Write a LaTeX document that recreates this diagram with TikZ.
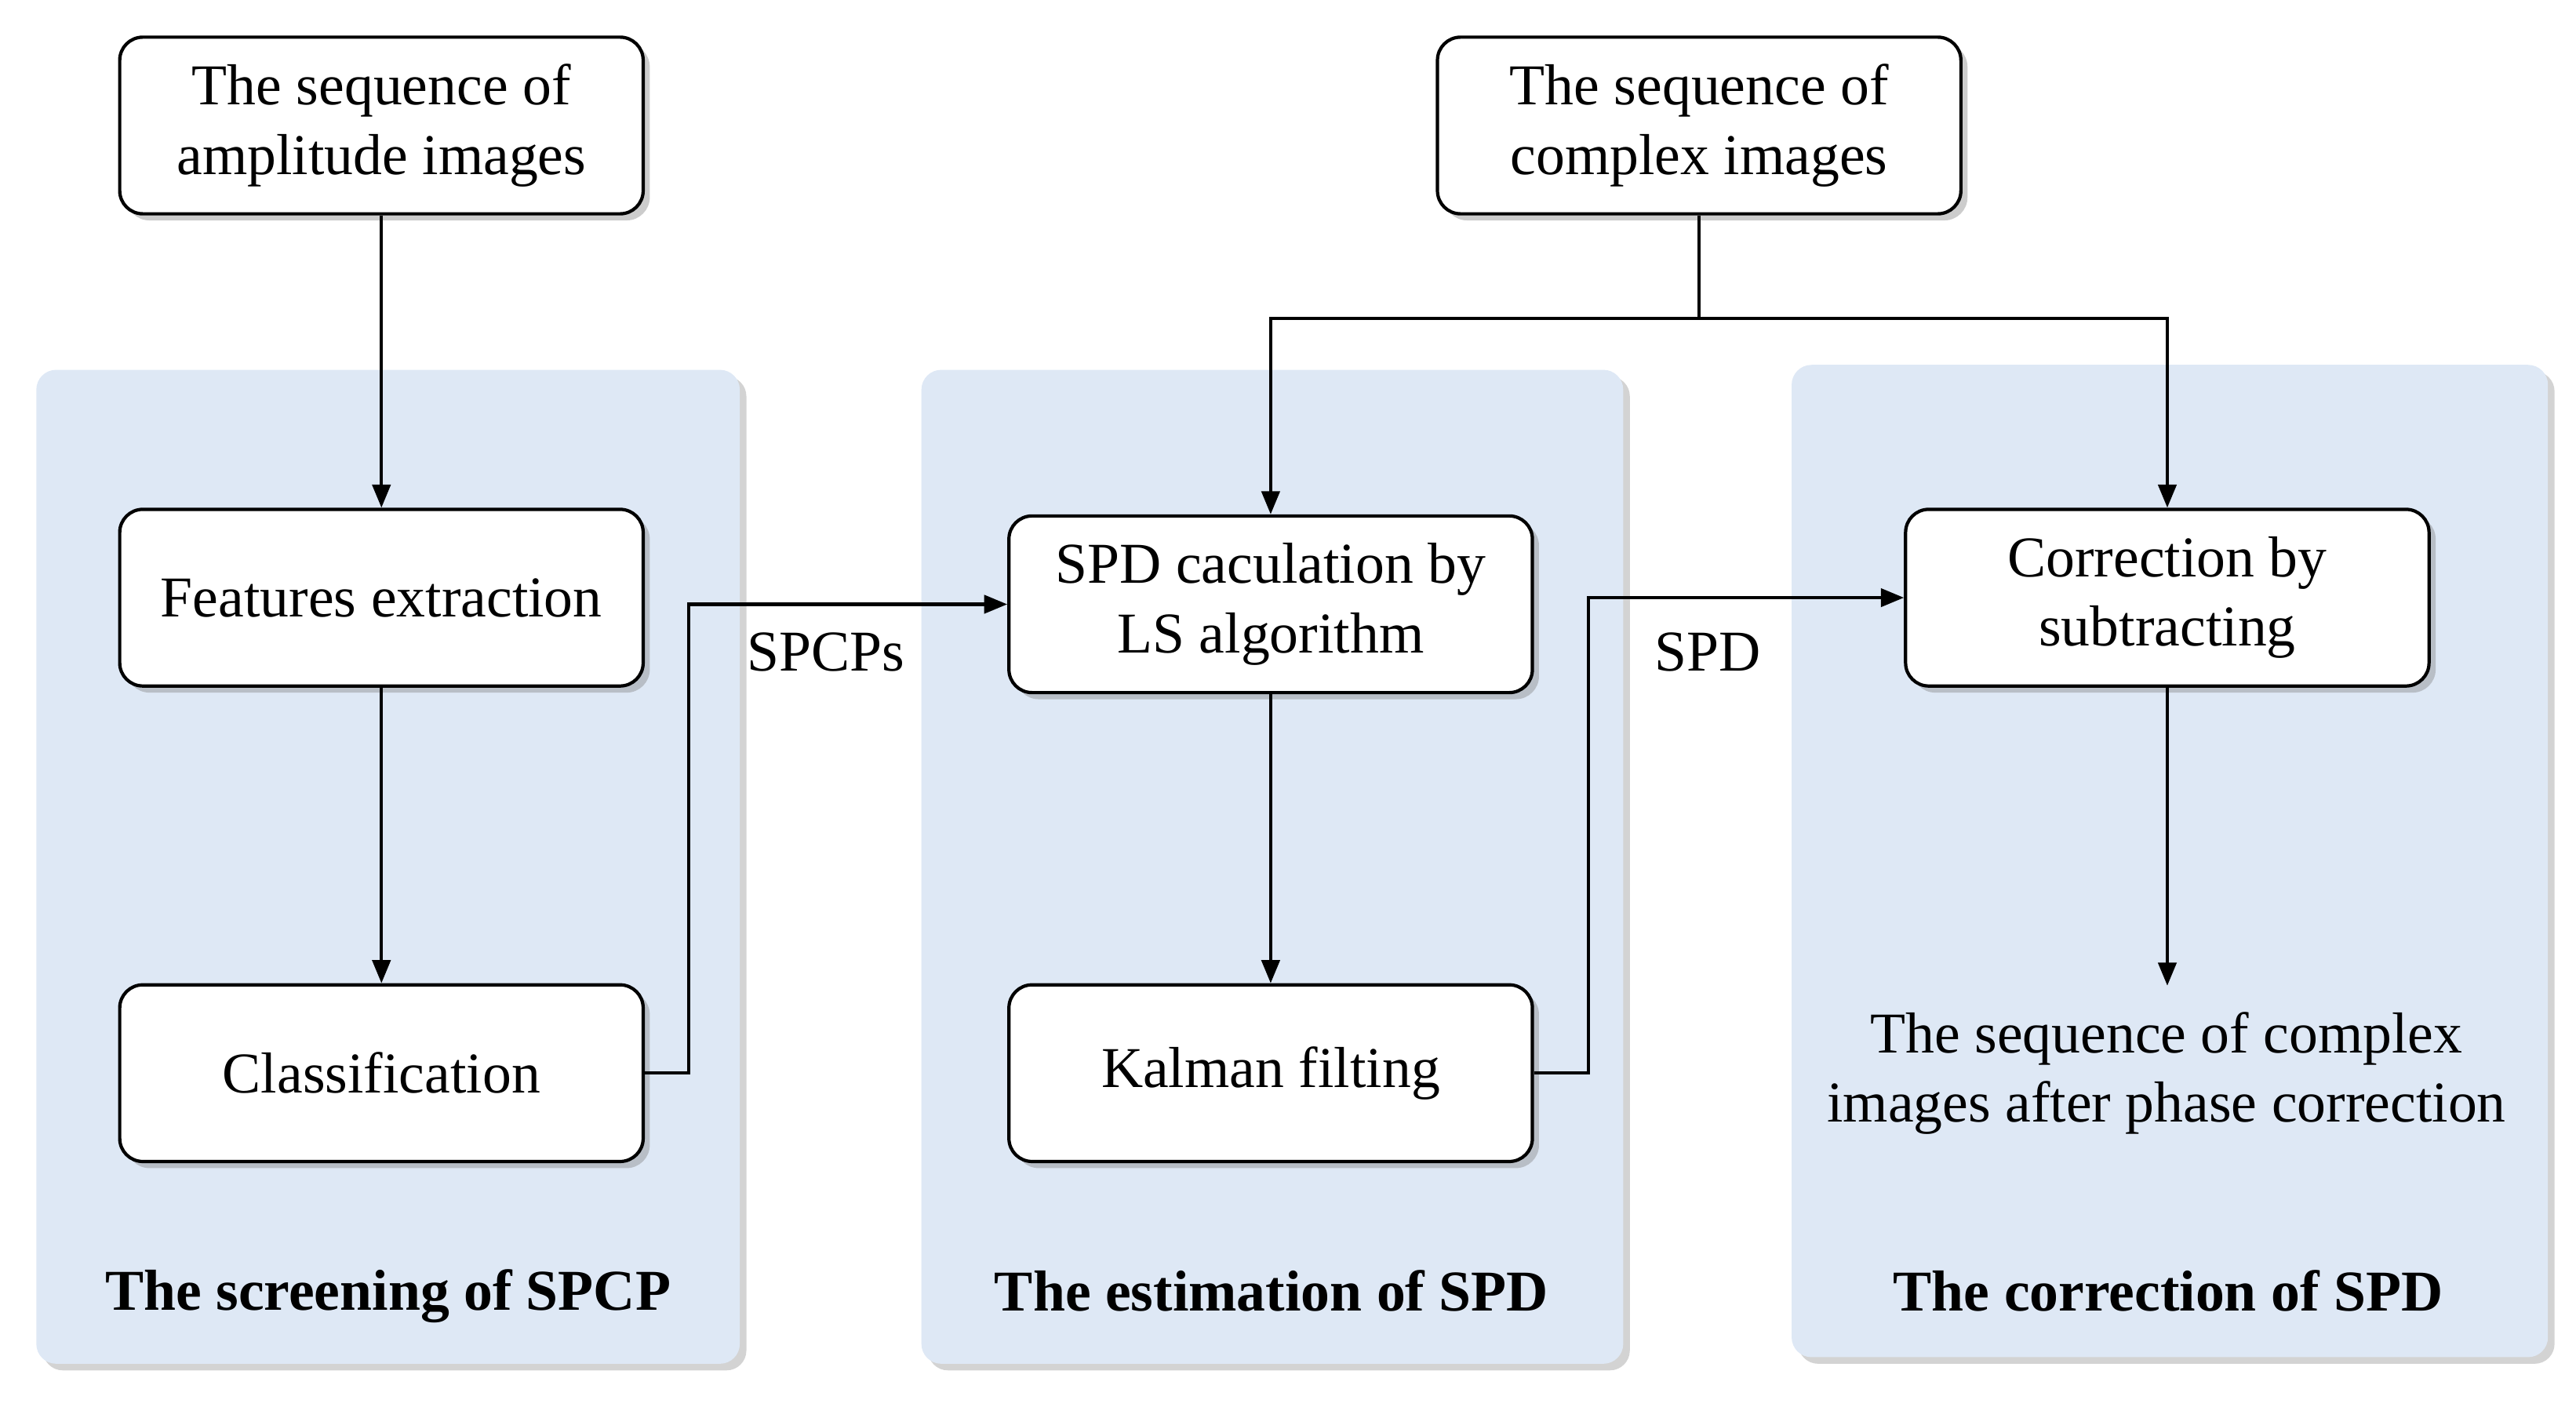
\documentclass[tikz,border=0pt]{standalone}
\usepackage{fontspec}
\setmainfont{Liberation Serif}
\usetikzlibrary{shadows,arrows.meta}
\definecolor{panelblue}{RGB}{222,232,245}
\begin{document}
\begin{tikzpicture}[x=0.5pt,y=-0.5pt,
  panel/.style={draw=none,fill=panelblue,rounded corners=6pt,drop shadow={shadow xshift=2pt,shadow yshift=-2pt,opacity=0.35}},
  box/.style={draw,line width=1pt,fill=white,rounded corners=7pt,minimum width=158.5pt,minimum height=53.5pt,align=center,font=\fontsize{17.5}{21}\selectfont,drop shadow={shadow xshift=2pt,shadow yshift=-2pt,opacity=0.4}},
  lbl/.style={font=\fontsize{17.5}{21}\selectfont\bfseries},
  txt/.style={font=\fontsize{17.5}{21}\selectfont,align=center},
  arr/.style={-{Triangle[length=7pt,width=5.5pt]},line width=1pt}]
\useasboundingbox (0,0) rectangle (1560,852);
\fill[panel] (22,224) rectangle (448,826);
\fill[panel] (558,224) rectangle (983,826);
\fill[panel] (1085,221) rectangle (1543,822);
\node[box] (amp) at (231,76) {The sequence of\\amplitude images};
\node[box] (cpx) at (1029,76) {The sequence of\\complex images};
\node[box] (feat) at (231,362) {Features extraction};
\node[box] (cls) at (231,650) {Classification};
\node[box] (spd) at (769.5,366) {SPD caculation by\\LS algorithm};
\node[box] (kal) at (769.5,650) {Kalman filting};
\node[box] (cor) at (1312.5,362) {Correction by\\subtracting};
\node[txt] (out) at (1312,650) {The sequence of complex\\images after phase correction};
\coordinate (outtop) at (1312.5,597);
\node[lbl] (l1) at (235,785) {The screening of SPCP};
\node[lbl] (l2) at (770,782) {The estimation of SPD};
\node[lbl] (l3) at (1313,782) {The correction of SPD};
\node[txt] (t1) at (500,395) {SPCPs};
\node[txt] (t2) at (1034,395) {SPD};
\coordinate (j) at (1029,193);
\draw[arr] (amp) -- (feat);
\draw[arr] (feat) -- (cls);
\draw[arr] (spd) -- (kal);
\draw[arr] (cor) -- (outtop);
\draw[line width=1pt] (cpx) -- (j);
\draw[arr] (j) -| (spd.north);
\draw[arr] (j) -| (cor.north);
\draw[arr] (cls.east) -- (417,650) |- (spd.west);
\draw[arr] (kal.east) -- (962,650) |- (cor.west);
\end{tikzpicture}
\end{document}
